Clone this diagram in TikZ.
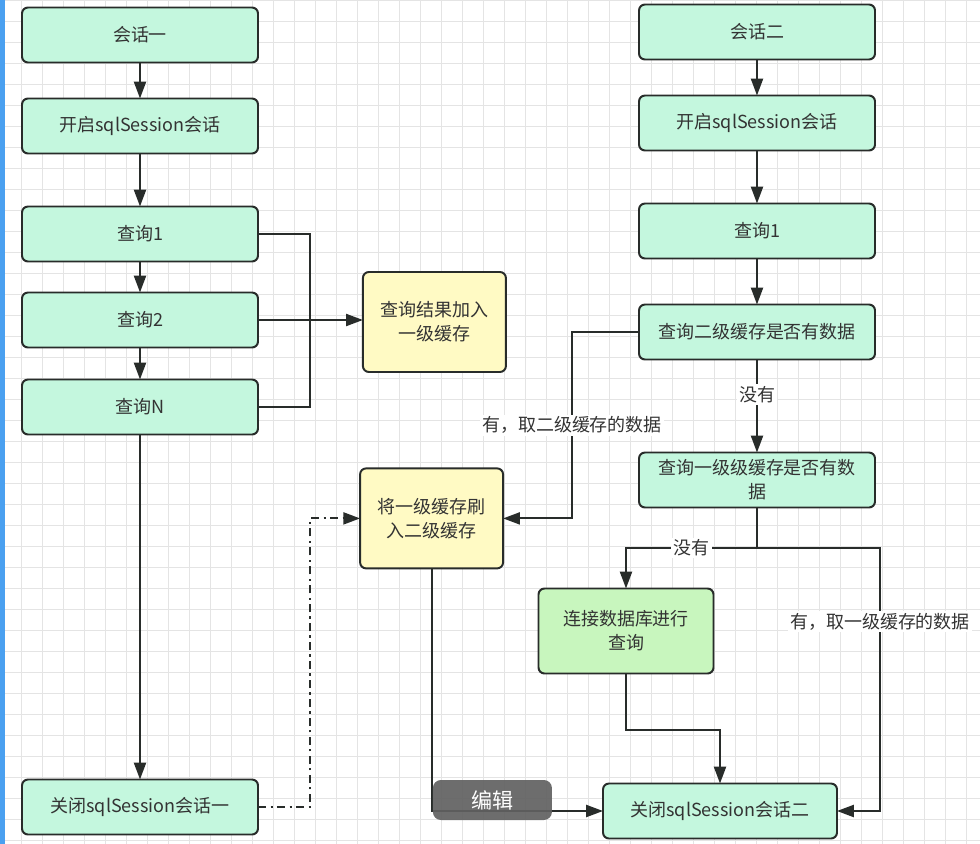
\documentclass[tikz,border=0pt]{standalone}
\usepackage{fontspec}
\newfontfamily\cjk{Noto Sans CJK SC}
\usetikzlibrary{arrows.meta,positioning,calc}
\definecolor{mint}{RGB}{196,247,222}
\definecolor{cream}{RGB}{255,250,196}
\definecolor{leaf}{RGB}{200,246,190}
\definecolor{ink}{RGB}{51,51,51}
\definecolor{edgec}{RGB}{40,44,42}
\definecolor{sideblue}{RGB}{74,160,240}
\definecolor{gridc}{RGB}{228,228,228}
\tikzset{box/.style={draw=edgec,line width=1.4pt,rounded corners=1.5mm,fill=mint,text=ink,font=\cjk\fontsize{12.8}{17}\selectfont,minimum width=5.9cm,minimum height=1.375cm,align=center,inner sep=2pt,outer sep=0pt},ybox/.style={box,fill=cream,minimum width=3.575cm,minimum height=2.5cm},gbox/.style={box,fill=leaf,minimum width=4.375cm,minimum height=2.125cm},flow/.style={-{Triangle[length=0.42cm,width=0.3cm]},line width=1.4pt,draw=edgec},link/.style={line width=1.4pt,draw=edgec},dflow/.style={flow,dash pattern=on 6pt off 3pt on 1.5pt off 3pt},lbl/.style={fill=white,text=ink,font=\cjk\fontsize{12.8}{16}\selectfont,inner sep=1.5pt},editbtn/.style={fill=black!62,fill opacity=0.92,text opacity=1,text=white,rounded corners=2mm,minimum width=2.975cm,minimum height=1cm,font=\cjk\fontsize{15}{18}\selectfont}}
\begin{document}
\begin{tikzpicture}
\useasboundingbox (0,0) rectangle (24.5,-21.1);
\fill[white] (0,0) rectangle (24.5,-21.1);
\draw[gridc,line width=0.4pt,step=0.525] (0,-21.1) grid (24.5,0);
\fill[sideblue] (0,0) rectangle (0.13,-21.1);
\node[box] (s1) at (3.5,-0.875) {会话一};
\node[box,below=0.9cm of s1] (open1) {开启sqlSession会话};
\node[box,below=1.325cm of open1] (q1) {查询1};
\node[box,below=0.775cm of q1] (q2) {查询2};
\node[box,below=0.8cm of q2] (qn) {查询N};
\node[box,below=8.625cm of qn] (close1) {关闭sqlSession会话一};
\node[box] (s2) at (18.925,-0.8) {会话二};
\node[box,below=0.9cm of s2] (open2) {开启sqlSession会话};
\node[box,below=1.325cm of open2] (q21) {查询1};
\node[box,below=1.15cm of q21] (chk2) {查询二级缓存是否有数据};
\node[box,below=2.325cm of chk2] (chk1) {查询一级级缓存是否有数\\据};
\node[gbox] (db) at (15.65,-15.775) {连接数据库进行\\查询};
\node[box,minimum width=5.85cm] (close2) at (18.0,-20.275) {关闭sqlSession会话二};
\node[ybox] (cache1) at (10.86,-8.05) {查询结果加入\\一级缓存};
\node[ybox] (flush) at (10.79,-12.96) {将一级缓存刷\\入二级缓存};
\coordinate (bus) at (7.75,0);
\coordinate (lx) at (14.3,0);
\coordinate (rx) at (22,0);
\coordinate (sp) at (18.925,-13.7);
\coordinate (jn) at (18.0,-18.25);
\draw[flow] (s1)--(open1);\draw[flow] (open1)--(q1);\draw[flow] (q1)--(q2);\draw[flow] (q2)--(qn);\draw[flow] (qn)--(close1);
\draw[flow] (s2)--(open2);\draw[flow] (open2)--(q21);\draw[flow] (q21)--(chk2);
\draw[link] (q1.east) -- (q1.east -| bus) -- (qn.east -| bus) -- (qn.east);
\draw[flow] (q2.east) -- (q2.east -| cache1.west);
\draw[dflow] (close1.east) -- (close1.east -| bus) -- (flush.west -| bus) -- (flush.west);
\draw[flow] (chk2.west) -- (chk2.west -| lx) -- node[lbl] {有，取二级缓存的数据} (flush.east -| lx) -- (flush.east);
\draw[flow] (chk2) -- node[lbl,pos=0.38] {没有} (chk1);
\draw[flow] (chk1.south) -- (sp) -- node[lbl] {没有} (sp -| db.north) -- (db.north);
\draw[flow] (sp) -- (sp -| rx) -- node[lbl,pos=0.28] {有，取一级缓存的数据} (close2.east -| rx) -- (close2.east);
\draw[flow] (db.south) |- (jn) -- (close2.north);
\draw[flow] (flush.south) |- (close2.west);
\node[editbtn] (edit) at (12.31,-20.0) {编辑};
\end{tikzpicture}
\end{document}
